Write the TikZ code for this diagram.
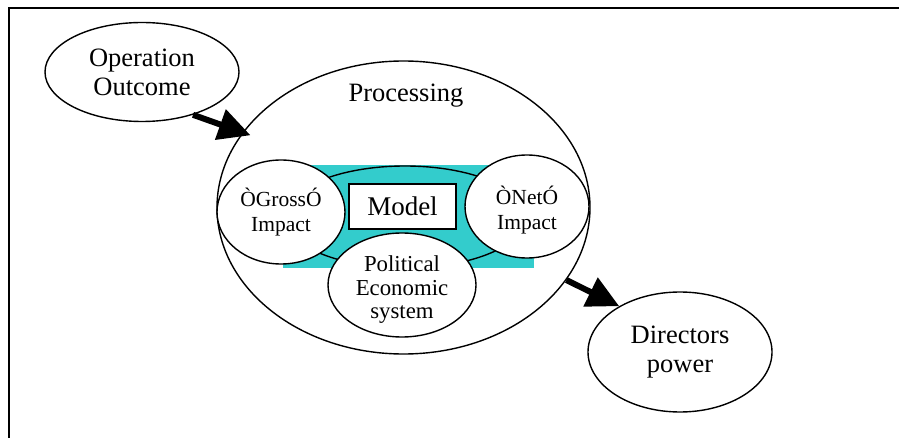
\documentclass[tikz,border=0pt]{standalone}
\usepackage{fontspec}
\setmainfont{Liberation Serif}
\usetikzlibrary{shapes.geometric,arrows.meta}
\definecolor{tealfill}{RGB}{51,204,204}
\begin{document}
\begin{tikzpicture}[x=1pt,y=-1pt,
  oval/.style={ellipse,draw,line width=1.4pt,fill=white,inner sep=0pt,align=center},
  bigtext/.style={font=\fontsize{26.5}{29}\selectfont},
  midtext/.style={font=\fontsize{22.8}{23.5}\selectfont},
  smalltext/.style={font=\fontsize{21.5}{25}\selectfont},
  flow/.style={line width=6pt,-{Triangle[length=32pt,width=31pt]}},
]
\useasboundingbox (0,0) rectangle (899,438);

% outer processing region
\node[oval,minimum width=373pt,minimum height=293pt] (proc) at (403.5,207.5) {};
\node[bigtext,anchor=base] (proclabel) at (406,102) {Processing};

% teal band with the model ring
\node[fill=tealfill,inner sep=0pt,minimum width=251pt,minimum height=103pt] (band) at (408.5,216.5) {};
\node[ellipse,draw,fill=tealfill,line width=1.4pt,inner sep=0pt,
      minimum width=242pt,minimum height=102pt] (core) at (405,217) {};
\node[draw,fill=white,line width=2.8pt,inner sep=0pt,
      minimum width=107pt,minimum height=45pt,
      font=\fontsize{27}{30}\selectfont] (model) at (402.5,206.5) {Model};

% impact and system ovals
\node[oval,smalltext,minimum width=128pt,minimum height=104pt] (gross) at (281,212) {ÒGrossÓ\\Impact};
\node[oval,minimum width=124pt,minimum height=103pt,
      label={[name=nettext,smalltext,align=center,yshift=-4pt]center:ÒNetÓ\\Impact}] (net) at (527,206.5) {};
\node[oval,minimum width=148pt,minimum height=104pt,
      label={[name=poltext,midtext,align=center,yshift=-5pt]center:Political\\Economic\\system}] (pol) at (402,285) {};

% input and output
\node[oval,bigtext,minimum width=194pt,minimum height=99pt] (oo) at (142,72) {Operation\\Outcome};
\node[oval,bigtext,minimum width=184pt,minimum height=120pt] (dp) at (680,352) {Directors\\power};

% flow arrows
\draw[flow,shorten >=-8.5pt] (oo.-40.5) -- (proc.155.5);
\draw[flow] (proc.-24.3) -- (dp.143);

% frame
\draw[line width=2pt] (9,438) -- (9,7.7) -- (899,7.7);
\end{tikzpicture}
\end{document}
